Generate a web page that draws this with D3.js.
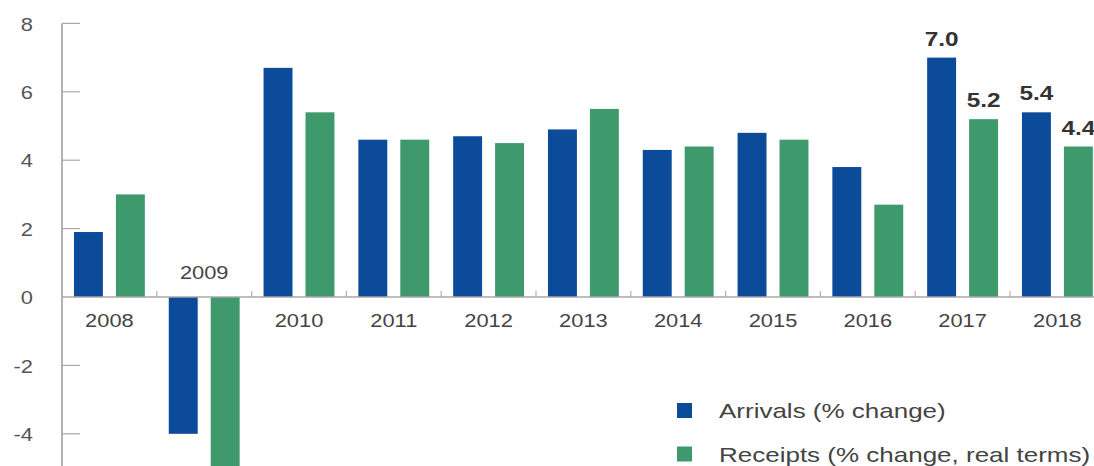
<!DOCTYPE html>
<html>
<head>
<meta charset="utf-8">
<script src="https://cdn.jsdelivr.net/npm/d3@7"></script>
<style>
  html, body { margin: 0; padding: 0; background: #fff; }
  svg { display: block; }
  text { font-family: "Liberation Sans", Arial, Helvetica, sans-serif; }
</style>
</head>
<body>
<svg id="chart" width="1094" height="466"></svg>
<script>
const years = ["2008","2009","2010","2011","2012","2013","2014","2015","2016","2017","2018"];
const arrivals = [1.9, -4.0, 6.7, 4.6, 4.7, 4.9, 4.3, 4.8, 3.8, 7.0, 5.4];
const receipts = [3.0, -5.7, 5.4, 4.6, 4.5, 5.5, 4.4, 4.6, 2.7, 5.2, 4.4];
const seriesNames = ["Arrivals (% change)", "Receipts (% change, real terms)"];
const seriesKeys = ["arrivals", "receipts"];
const seriesColors = ["#0c4a9a", "#3e9a6c"];
const yTicks = [8, 6, 4, 2, 0, -2, -4];
const labelledBars = [["2017","arrivals"],["2017","receipts"],["2018","arrivals"],["2018","receipts"]];

const values = { arrivals, receipts };
const SX = 1.25; // horizontal text stretch seen in the reference

const svg = d3.select("#chart");
const axisX = 62;
const step = 94.8;
const x0 = d3.scaleBand().domain(years).range([axisX, axisX + step * years.length]).padding(0);
const x1 = d3.scaleBand().domain(seriesKeys).range([0, x0.bandwidth()]).paddingInner(0.31).paddingOuter(0.285);
const y = d3.scaleLinear().domain([-5, 8]).range([468, 23.4]);

function stretchedText(g, x, yy) {
  return g.append("text").attr("transform", `translate(${x},${yy}) scale(${SX},1)`);
}

// Bars
years.forEach((yr, i) => {
  seriesKeys.forEach((k, j) => {
    const v = values[k][i];
    svg.append("rect")
      .attr("x", x0(yr) + x1(k))
      .attr("width", x1.bandwidth())
      .attr("y", y(Math.max(0, v)))
      .attr("height", Math.abs(y(v) - y(0)))
      .attr("fill", seriesColors[j]);
  });
});

// Y axis
svg.append("line")
  .attr("x1", axisX).attr("x2", axisX)
  .attr("y1", y(8)).attr("y2", 466)
  .attr("stroke", "#9a9a9a").attr("stroke-width", 1.5);
yTicks.forEach(t => {
  if (t !== 0) {
    svg.append("line")
      .attr("x1", axisX).attr("x2", axisX + 18)
      .attr("y1", y(t)).attr("y2", y(t))
      .attr("stroke", "#a8a8a8").attr("stroke-width", 1.2);
  }
  stretchedText(svg, 33, y(t) + 1)
    .attr("text-anchor", "end")
    .attr("dominant-baseline", "central")
    .attr("font-size", 17.5)
    .attr("fill", "#555")
    .text(t);
});

// Zero line
svg.append("line")
  .attr("x1", axisX).attr("x2", 1094)
  .attr("y1", y(0)).attr("y2", y(0))
  .attr("stroke", "#a8a8a8").attr("stroke-width", 1.5);

// Category separator ticks
years.forEach((yr, i) => {
  if (i === 0) return;
  svg.append("line")
    .attr("x1", x0(yr)).attr("x2", x0(yr))
    .attr("y1", y(0)).attr("y2", y(0) - 6)
    .attr("stroke", "#c4aaa4").attr("stroke-width", 1.2);
});

// Year labels
years.forEach((yr, i) => {
  const below = arrivals[i] >= 0;
  stretchedText(svg, x0(yr) + x0.bandwidth() / 2, below ? 327 : 278.5)
    .attr("text-anchor", "middle")
    .attr("font-size", 17.5)
    .attr("fill", "#444")
    .text(yr);
});

// Value labels
labelledBars.forEach(([yr, k]) => {
  const v = values[k][years.indexOf(yr)];
  stretchedText(svg, x0(yr) + x1(k) + x1.bandwidth() / 2, y(v) - 12)
    .attr("text-anchor", "middle")
    .attr("font-size", 19.5)
    .attr("font-weight", "bold")
    .attr("fill", "#333")
    .text(v.toFixed(1));
});

// Legend
seriesNames.forEach((name, j) => {
  const top = 403 + j * 43.5;
  svg.append("rect")
    .attr("x", 677).attr("y", top)
    .attr("width", 15).attr("height", 15)
    .attr("fill", seriesColors[j]);
  stretchedText(svg, 719, top + 15)
    .attr("font-size", 20.8)
    .attr("fill", "#444")
    .text(name);
});
</script>
</body>
</html>
